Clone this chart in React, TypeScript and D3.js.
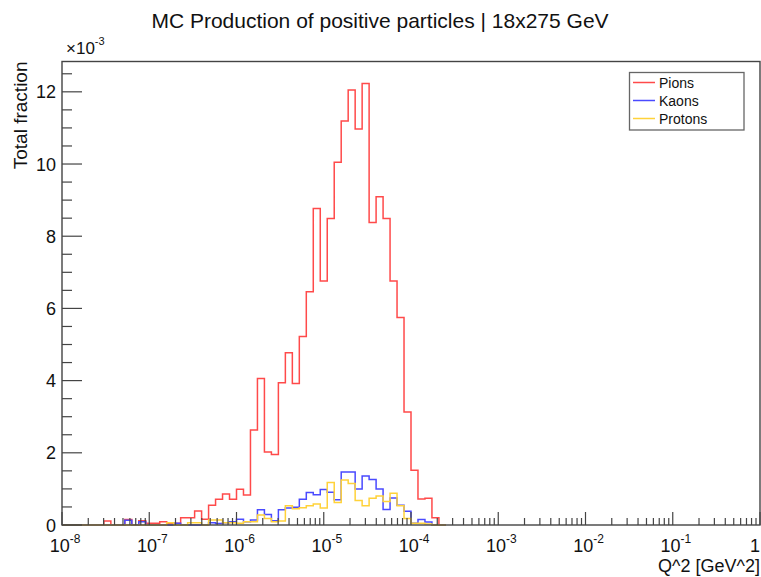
import React from "react";
import * as d3 from "d3";

// Histogram: 100 log-spaced bins from 1e-8 to 1 (values in units of 1e-3); bins beyond index 54 are empty
const NBINS = 100;
const LOG_MIN = -8;
const LOG_MAX = 0;

const pions = [
  0, 0, 0, 0, 0, 0, 0.11, 0, 0, 0.15,
  0, 0.12, 0.05, 0.05, 0.09, 0.05, 0.05, 0.2, 0.2, 0.39,
  0.16, 0.55, 0.71, 0.86, 0.71, 0.99, 0.83, 2.63, 4.06, 2.02,
  1.95, 3.94, 4.77, 3.92, 5.22, 6.46, 8.77, 6.76, 8.49, 10.05,
  11.19, 12.05, 10.97, 12.23, 8.38, 9.09, 8.49, 6.76, 5.75, 3.13,
  1.52, 0.72, 0.74, 0.2, 0,
];
const kaons = [
  0, 0, 0, 0, 0, 0, 0, 0, 0, 0.13,
  0, 0.09, 0, 0, 0, 0, 0.05, 0, 0, 0,
  0, 0.06, 0.04, 0.06, 0.09, 0.16, 0.09, 0.14, 0.42, 0.29,
  0.12, 0.42, 0.47, 0.49, 0.71, 0.9, 0.84, 0.98, 0.91, 0.7,
  1.47, 1.47, 1.0, 1.36, 1.26, 1.0, 0.43, 0.75, 0.55, 0.38,
  0.05, 0.15, 0.08, 0, 0,
];
const protons = [
  0, 0, 0, 0, 0, 0, 0, 0, 0, 0,
  0, 0, 0, 0, 0, 0.06, 0, 0, 0.06, 0.06,
  0, 0.14, 0.14, 0.06, 0.06, 0.05, 0.09, 0.09, 0.28, 0.18,
  0.09, 0.11, 0.53, 0.45, 0.48, 0.53, 0.58, 0.47, 1.18, 0.62,
  1.25, 1.15, 0.68, 0.53, 0.74, 0.8, 0.65, 0.88, 0.53, 0.18,
  0.05, 0.05, 0.03, 0, 0,
];

const seriesNames = ["Pions", "Kaons", "Protons"];
const seriesColors = ["#ff4a4a", "#4a4aff", "#ffd23a"];
const seriesData = [pions, kaons, protons];

const yMajorTicks = [0, 2, 4, 6, 8, 10, 12];
const xDecades = [-8, -7, -6, -5, -4, -3, -2, -1, 0];

const title = "MC Production of positive particles | 18x275 GeV";
const xTitle = "Q^2 [GeV^2]";
const yTitle = "Total fraction";

const W = 761;
const H = 577;
const L = 62;
const R = 760;
const T = 61.5;
const B = 525;
const YMAX = 12.84;

const FONT = "'Liberation Sans', Arial, Helvetica, sans-serif";

export default function App() {
  const x = d3.scaleLog().domain([1e-8, 1]).range([L, R]);
  const y = d3.scaleLinear().domain([0, YMAX]).range([B, T]);

  const binEdge = (i: number) => Math.pow(10, LOG_MIN + ((LOG_MAX - LOG_MIN) * i) / NBINS);

  const line = d3
    .line<[number, number]>()
    .x((d) => d[0])
    .y((d) => d[1]);

  const histPath = (vals: number[]) => {
    const pts: [number, number][] = [[x(binEdge(0)), y(0)]];
    vals.forEach((v, i) => {
      pts.push([x(binEdge(i)), y(v)]);
      pts.push([x(binEdge(i + 1)), y(v)]);
    });
    pts.push([x(binEdge(vals.length)), y(0)]);
    return line(pts) || "";
  };

  // y minor ticks every 0.5
  const yMinor = d3.range(0, YMAX, 0.5).filter((v) => Math.abs(v % 2) > 1e-9);

  // x minor ticks 2..9 per decade
  const xMinor: number[] = [];
  for (let d = -8; d < 0; d++) {
    for (let m = 2; m <= 9; m++) xMinor.push(m * Math.pow(10, d));
  }

  const axisColor = "#444";

  return (
    <div style={{ position: "absolute", left: 0, top: 0, width: W, height: H, background: "#fff" }}>
      <svg width={W} height={H} style={{ display: "block", fontFamily: FONT }}>
        <rect x={0} y={0} width={W} height={H} fill="#fff" />
        {/* title */}
        <text x={380} y={28} textAnchor="middle" fontSize={21} fill="#111">
          {title}
        </text>

        {/* histograms */}
        {seriesData.map((vals, k) => (
          <path
            key={seriesNames[k]}
            d={histPath(vals)}
            fill="none"
            stroke={seriesColors[k]}
            strokeWidth={1.5}
          />
        ))}

        {/* frame */}
        <rect x={L} y={T} width={R - L} height={B - T} fill="none" stroke={axisColor} strokeWidth={1.4} />

        {/* y ticks */}
        {yMajorTicks.map((v) => (
          <g key={"ym" + v}>
            <line x1={L} x2={L + 20} y1={y(v)} y2={y(v)} stroke={axisColor} strokeWidth={1.2} />
            <text x={56} y={y(v) + 6.5} textAnchor="end" fontSize={18} fill="#111">
              {v}
            </text>
          </g>
        ))}
        {yMinor.map((v) => (
          <line key={"yn" + v} x1={L} x2={L + 10} y1={y(v)} y2={y(v)} stroke={axisColor} strokeWidth={1.2} />
        ))}

        {/* x ticks */}
        {xDecades.map((d) => (
          <line
            key={"xm" + d}
            x1={x(Math.pow(10, d))}
            x2={x(Math.pow(10, d))}
            y1={B}
            y2={B - 13}
            stroke={axisColor}
            strokeWidth={1.2}
          />
        ))}
        {xMinor.map((v, i) => (
          <line key={"xn" + i} x1={x(v)} x2={x(v)} y1={B} y2={B - 7} stroke={axisColor} strokeWidth={1.2} />
        ))}
        {xDecades.map((d) =>
          d === 0 ? (
            <text key={"xl" + d} x={x(1)} y={552} textAnchor="end" fontSize={18} fill="#111">
              1
            </text>
          ) : (
            <text key={"xl" + d} x={x(Math.pow(10, d)) + 3} y={552} textAnchor="middle" fontSize={18} fill="#111">
              10
              <tspan fontSize={12} dy={-9}>
                {String(d)}
              </tspan>
            </text>
          )
        )}

        {/* multiplier */}
        <text x={66} y={54} fontSize={17} fill="#111">
          ×10
          <tspan fontSize={11} dy={-9}>
            -3
          </tspan>
        </text>

        {/* axis titles */}
        <text x={R} y={572} textAnchor="end" fontSize={18} fill="#111">
          {xTitle}
        </text>
        <text
          transform={`translate(27,${T}) rotate(-90)`}
          textAnchor="end"
          fontSize={19}
          fill="#111"
        >
          {yTitle}
        </text>

        {/* legend */}
        <rect x={629.5} y={72.5} width={114.5} height={57.5} fill="#fff" stroke="#666" strokeWidth={1.3} />
        {seriesNames.map((n, k) => (
          <g key={"lg" + n}>
            <line
              x1={633}
              x2={655}
              y1={82.5 + 18 * k}
              y2={82.5 + 18 * k}
              stroke={seriesColors[k]}
              strokeWidth={1.5}
            />
            <text x={659} y={82.5 + 18 * k + 5} fontSize={14} fill="#111">
              {n}
            </text>
          </g>
        ))}
      </svg>
    </div>
  );
}
